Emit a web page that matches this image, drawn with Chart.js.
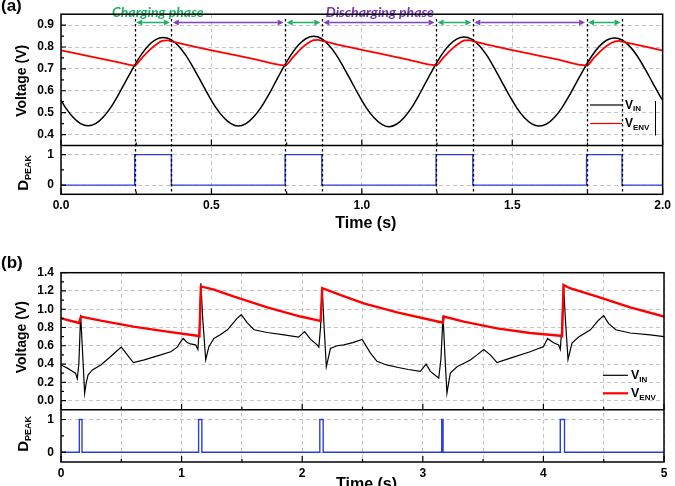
<!DOCTYPE html>
<html>
<head>
<meta charset="utf-8">
<script src="https://cdn.jsdelivr.net/npm/chart.js@4.4.1/dist/chart.umd.min.js"></script>
<style>
  html, body { margin: 0; padding: 0; background: #fff; overflow: hidden; }
  canvas { position: absolute; left: 0; }
</style>
</head>
<body>
<canvas id="chartA" width="675" height="243" style="top:0"></canvas>
<canvas id="chartB" width="675" height="243" style="top:243px"></canvas>
<script>
// ---- panel (a): sine input ----
const timeA = [0, 0.015, 0.04, 0.065, 0.09, 0.115, 0.14, 0.165, 0.19, 0.215, 0.24, 0.265, 0.29, 0.315, 0.34, 0.365, 0.39, 0.415, 0.44, 0.465, 0.49, 0.515, 0.54, 0.565, 0.59, 0.615, 0.64, 0.665, 0.69, 0.715, 0.74, 0.765, 0.79, 0.815, 0.84, 0.865, 0.89, 0.915, 0.94, 0.965, 0.99, 1.015, 1.04, 1.065, 1.09, 1.115, 1.14, 1.165, 1.19, 1.215, 1.24, 1.265, 1.29, 1.315, 1.34, 1.365, 1.39, 1.415, 1.44, 1.465, 1.49, 1.515, 1.54, 1.565, 1.59, 1.615, 1.64, 1.665, 1.69, 1.715, 1.74, 1.765, 1.79, 1.815, 1.84, 1.865, 1.89, 1.915, 1.94, 1.965, 1.99, 2.0];
const vinA = [0.556,
  0.523, 0.479, 0.450,
  0.440, 0.450, 0.479, 0.523, 0.580, 0.643, 0.705, 0.762, 0.806, 0.834, 0.843, 0.834, 0.806, 0.762, 0.705, 0.643, 0.580, 0.523, 0.479, 0.450,
  0.439, 0.450, 0.480, 0.524, 0.581, 0.645, 0.708, 0.765, 0.810, 0.839, 0.849, 0.839, 0.809, 0.764, 0.706, 0.643, 0.580, 0.522, 0.478, 0.448,
  0.436, 0.447, 0.477, 0.522, 0.580, 0.644, 0.707, 0.764, 0.808, 0.836, 0.846, 0.836, 0.807, 0.763, 0.705, 0.642, 0.579, 0.522, 0.478, 0.449,
  0.439, 0.449, 0.478, 0.522, 0.579, 0.642, 0.704, 0.760, 0.804, 0.832, 0.841, 0.832, 0.804, 0.760, 0.703, 0.641, 0.579,
  0.556];
const envTimeA = [0, 0.1, 0.2, 0.245, 0.27, 0.295, 0.32, 0.34, 0.355, 0.367, 0.45, 0.55, 0.65, 0.745, 0.77, 0.795, 0.82, 0.84, 0.855, 0.867, 0.95, 1.05, 1.15, 1.247, 1.272, 1.297, 1.322, 1.342, 1.357, 1.369, 1.45, 1.55, 1.65, 1.747, 1.772, 1.797, 1.822, 1.842, 1.855, 1.865, 1.95, 2.0];
const envA = [0.785, 0.756, 0.728, 0.716, 0.752, 0.787, 0.815, 0.829, 0.830, 0.826, 0.800, 0.771, 0.742, 0.716, 0.752, 0.788, 0.817, 0.831, 0.833, 0.829, 0.802, 0.773, 0.744, 0.717, 0.753, 0.788, 0.816, 0.830, 0.831, 0.827, 0.801, 0.772, 0.743, 0.716, 0.751, 0.786, 0.813, 0.826, 0.828, 0.825, 0.799, 0.784];
const peakOnA = [0.245, 0.745, 1.247, 1.747];
const peakOffA = [0.367, 0.867, 1.369, 1.865];
const xTicksA = [0, 0.5, 1, 1.5, 2];
const yTicksA = [0.4, 0.5, 0.6, 0.7, 0.8, 0.9];

// ---- panel (b): ECG input ----
const timeB = [0, 0.03, 0.053, 0.094, 0.12, 0.135, 0.148, 0.163, 0.178, 0.196, 0.21, 0.224, 0.26, 0.33, 0.41, 0.46, 0.5, 0.55, 0.6, 0.69, 0.8, 0.91, 0.964, 0.99, 1.014, 1.047, 1.074, 1.116, 1.135, 1.148, 1.16, 1.175, 1.2, 1.226, 1.268, 1.32, 1.38, 1.46, 1.495, 1.545, 1.6, 1.71, 1.85, 1.97, 2.02, 2.07, 2.124, 2.138, 2.152, 2.166, 2.18, 2.2, 2.234, 2.29, 2.345, 2.42, 2.497, 2.566, 2.62, 2.7, 2.787, 2.88, 2.98, 3.027, 3.063, 3.1, 3.132, 3.15, 3.168, 3.183, 3.2, 3.215, 3.228, 3.284, 3.394, 3.45, 3.505, 3.56, 3.615, 3.726, 3.89, 3.96, 4.0, 4.035, 4.08, 4.126, 4.14, 4.153, 4.167, 4.182, 4.204, 4.237, 4.292, 4.39, 4.457, 4.5, 4.54, 4.6, 4.72, 4.886, 5.0];
const vinB = [0.39, 0.37, 0.355, 0.32, 0.30, 0.24, 0.40, 0.94, 0.55, 0.08, 0.20, 0.28, 0.335, 0.39, 0.48, 0.54, 0.585, 0.50, 0.415, 0.445, 0.49, 0.535, 0.585, 0.64, 0.68, 0.635, 0.62, 0.61, 0.56, 0.80, 1.285, 0.90, 0.445, 0.59, 0.68, 0.72, 0.775, 0.90, 0.94, 0.85, 0.775, 0.745, 0.72, 0.695, 0.755, 0.67, 0.61, 0.585, 0.80, 1.24, 0.85, 0.37, 0.57, 0.60, 0.61, 0.635, 0.67, 0.52, 0.43, 0.39, 0.365, 0.34, 0.32, 0.40, 0.32, 0.28, 0.245, 0.45, 0.93, 0.50, 0.08, 0.20, 0.30, 0.37, 0.445, 0.50, 0.56, 0.50, 0.415, 0.465, 0.535, 0.57, 0.59, 0.68, 0.635, 0.61, 0.56, 0.80, 1.27, 0.90, 0.45, 0.63, 0.695, 0.775, 0.88, 0.93, 0.845, 0.775, 0.74, 0.72, 0.70];
const envTimeB = [0, 0.135, 0.15, 0.165, 0.33, 0.6, 0.88, 1.13, 1.148, 1.16, 1.268, 1.43, 1.71, 1.986, 2.14, 2.153, 2.166, 2.32, 2.51, 2.787, 3.16, 3.166, 3.175, 3.34, 3.615, 3.89, 4.14, 4.155, 4.167, 4.22, 4.44, 4.72, 5.0];
const envB = [0.90, 0.855, 0.85, 0.92, 0.875, 0.81, 0.755, 0.71, 0.705, 1.25, 1.215, 1.14, 1.02, 0.92, 0.875, 0.87, 1.23, 1.155, 1.065, 0.965, 0.855, 0.853, 0.92, 0.865, 0.79, 0.74, 0.71, 0.705, 1.265, 1.23, 1.14, 1.02, 0.92];
const peakOnB = [0.152, 1.141, 2.146, 3.157, 4.14];
const peakOffB = [0.174, 1.168, 2.174, 3.168, 4.175];
const xTicksB = [0, 1, 2, 3, 4, 5];
const yTicksB = [0, 0.2, 0.4, 0.6, 0.8, 1.0, 1.2, 1.4];

const dTicks = [0, 1];

const FONT = "'Liberation Sans', Arial, sans-serif";
const GRID = '#c4c4c4';
Chart.defaults.font.family = FONT;
Chart.defaults.color = '#000';

function zip(t, v) { return t.map((x, i) => ({ x: x, y: v[i] })); }

function pulses(on, off, tEnd) {
  const pts = [{ x: 0, y: 0 }];
  on.forEach((t, i) => {
    pts.push({ x: t, y: 0 }, { x: t, y: 1 }, { x: off[i], y: 1 }, { x: off[i], y: 0 });
  });
  pts.push({ x: tEnd, y: 0 });
  return pts;
}

function mids(list) {
  const out = [];
  for (let i = 0; i < list.length - 1; i++) out.push((list[i] + list[i + 1]) / 2);
  return out;
}

function setTicks(list) {
  return function (scale) { scale.ticks = list.map(v => ({ value: v })); };
}

function tickFont() { return { family: FONT, size: 12, weight: 'bold' }; }

// text with optional subscript; rotated when rot is set
function drawSub(ctx, x, y, main, sub, size, subSize, rot) {
  ctx.save();
  ctx.translate(x, y);
  if (rot) ctx.rotate(-Math.PI / 2);
  ctx.fillStyle = '#000';
  ctx.textBaseline = 'middle';
  ctx.font = 'bold ' + size + 'px ' + FONT;
  const w1 = ctx.measureText(main).width;
  ctx.font = 'bold ' + subSize + 'px ' + FONT;
  const w2 = sub ? ctx.measureText(sub).width : 0;
  const x0 = rot ? -(w1 + w2) / 2 : 0;
  ctx.font = 'bold ' + size + 'px ' + FONT;
  ctx.textAlign = 'left';
  ctx.fillText(main, x0, 0);
  if (sub) {
    ctx.font = 'bold ' + subSize + 'px ' + FONT;
    ctx.fillText(sub, x0 + w1, size * 0.3);
  }
  ctx.restore();
}

function arrow(ctx, x1, x2, y, color) {
  const h = 6, w = 3;
  ctx.strokeStyle = color;
  ctx.fillStyle = color;
  ctx.lineWidth = 1.5;
  ctx.setLineDash([]);
  ctx.beginPath(); ctx.moveTo(x1 + h, y); ctx.lineTo(x2 - h, y); ctx.stroke();
  ctx.beginPath(); ctx.moveTo(x1, y); ctx.lineTo(x1 + h, y - w); ctx.lineTo(x1 + h, y + w); ctx.closePath(); ctx.fill();
  ctx.beginPath(); ctx.moveTo(x2, y); ctx.lineTo(x2 - h, y - w); ctx.lineTo(x2 - h, y + w); ctx.closePath(); ctx.fill();
}

function framePlugin(o) {
  return {
    id: 'frame',
    afterDatasetsDraw(chart) {
      if (o.overlay) o.overlay(chart);
    },
    afterDraw(chart) {
      const ctx = chart.ctx, a = chart.chartArea;
      const sx = chart.scales.x, sy = chart.scales.y, sd = chart.scales.y2;
      ctx.save();
      ctx.strokeStyle = '#000';
      ctx.lineWidth = 1.5;
      ctx.setLineDash([]);
      ctx.strokeRect(a.left, a.top, a.right - a.left, a.bottom - a.top);
      ctx.beginPath();
      ctx.moveTo(a.left, sy.bottom); ctx.lineTo(a.right, sy.bottom);
      ctx.stroke();

      ctx.lineWidth = 1.2;
      ctx.beginPath();
      const xMinor = mids(o.xMajor);
      [sy.bottom, a.bottom].forEach(b => {
        o.xMajor.forEach(v => { const p = sx.getPixelForValue(v); ctx.moveTo(p, b); ctx.lineTo(p, b - 6); });
        xMinor.forEach(v => { const p = sx.getPixelForValue(v); ctx.moveTo(p, b); ctx.lineTo(p, b - 3); });
      });
      [[sy, o.yMajor], [sd, dTicks]].forEach(([s, list]) => {
        list.forEach(v => { const p = s.getPixelForValue(v); ctx.moveTo(a.left, p); ctx.lineTo(a.left + 5, p); });
        mids(list).forEach(v => { const p = s.getPixelForValue(v); ctx.moveTo(a.left, p); ctx.lineTo(a.left + 3, p); });
      });
      ctx.stroke();

      // axis titles
      drawSub(ctx, 22, (sy.top + sy.bottom) / 2 + o.vOff, 'Voltage (V)', '', 14, 9, true);
      drawSub(ctx, 24, (sd.top + sd.bottom) / 2 + o.dOff, 'D', 'PEAK', 15, 9, true);
      ctx.fillStyle = '#000';
      ctx.font = 'bold 16px ' + FONT;
      ctx.textAlign = 'center';
      ctx.textBaseline = 'alphabetic';
      ctx.fillText('Time (s)', (a.left + a.right) / 2 + 4, o.timeY);
      ctx.textAlign = 'left';
      ctx.font = 'bold 17px ' + FONT;
      ctx.fillText(o.label, 1, o.labelY);

      // legend
      const L = o.legend;
      ctx.lineWidth = 1.2;
      ctx.strokeStyle = '#000';
      ctx.beginPath(); ctx.moveTo(L.x1, L.y1); ctx.lineTo(L.x2, L.y1); ctx.stroke();
      ctx.lineWidth = L.redW;
      ctx.strokeStyle = '#ff0000';
      ctx.beginPath(); ctx.moveTo(L.x1, L.y2); ctx.lineTo(L.x2, L.y2); ctx.stroke();
      drawSub(ctx, L.x2 + 3, L.y1 + 0.5, 'V', 'IN', L.size, L.sub, false);
      drawSub(ctx, L.x2 + 3, L.y2 + 0.5, 'V', 'ENV', L.size, L.sub, false);
      if (L.bar) {
        ctx.lineWidth = 1;
        ctx.strokeStyle = '#000';
        ctx.beginPath(); ctx.moveTo(L.bar, L.y1 - 4); ctx.lineTo(L.bar, L.y2 + 12); ctx.stroke();
      }
      ctx.restore();
    }
  };
}

function yScale(min, max, ticks, weight, fmt) {
  return {
    type: 'linear', position: 'left', stack: 'v', stackWeight: weight,
    min: min, max: max,
    afterBuildTicks: setTicks(ticks),
    afterFit: s => { s.width = 61; },
    ticks: { font: tickFont(), color: '#000', padding: 7, autoSkip: false, callback: fmt },
    grid: { color: GRID, lineWidth: 1, drawTicks: false },
    border: { display: false, dash: [4, 3] }
  };
}

function xScale(max, ticks, height, fmt) {
  return {
    type: 'linear', min: 0, max: max,
    afterBuildTicks: setTicks(ticks),
    afterFit: s => { s.height = height; },
    ticks: { font: tickFont(), color: '#000', padding: 4, maxRotation: 0, autoSkip: false, callback: fmt },
    grid: { color: GRID, lineWidth: 1, drawTicks: false },
    border: { display: false, dash: [4, 3] }
  };
}

function lineSet(data, color, width, axis, smooth) {
  return {
    data: data, borderColor: color, borderWidth: width, yAxisID: axis,
    pointRadius: 0, fill: false,
    tension: smooth ? 0.4 : 0, cubicInterpolationMode: smooth ? 'monotone' : 'default'
  };
}

const one = v => v.toFixed(1);
const plain = v => String(v);

// ---- chart (a) ----
new Chart(document.getElementById('chartA'), {
  type: 'line',
  data: {
    datasets: [
      lineSet(zip(envTimeA, envA), '#ff0000', 1.8, 'y', true),
      lineSet(zip(timeA, vinA), '#000000', 1.5, 'y', true),
      lineSet(pulses(peakOnA, peakOffA, 2), '#2a3de0', 1.4, 'y2', false)
    ]
  },
  options: {
    responsive: false, animation: false, events: [],
    layout: { padding: { left: 0, right: 11, top: 4, bottom: 0 } },
    plugins: { legend: { display: false }, tooltip: { enabled: false } },
    scales: {
      x: xScale(2, xTicksA, 48.7, one),
      y2: yScale(-0.3, 1.3, dTicks, 51.6, plain),
      y: yScale(0.35, 0.95, yTicksA, 138.7, one)
    }
  },
  plugins: [framePlugin({
    xMajor: xTicksA, yMajor: yTicksA, vOff: 1, dOff: 3,
    timeY: 228, label: '(a)', labelY: 11,
    legend: { x1: 590, x2: 622, y1: 105, y2: 123.5, redW: 1.2, size: 12, sub: 8, bar: 655.5 },
    overlay(chart) {
      const ctx = chart.ctx, a = chart.chartArea, sx = chart.scales.x;
      ctx.save();
      ctx.strokeStyle = '#000';
      ctx.lineWidth = 1.3;
      ctx.setLineDash([2.5, 2.5]);
      peakOnA.concat(peakOffA).forEach(t => {
        const p = Math.round(sx.getPixelForValue(t)) + 0.5;
        ctx.beginPath(); ctx.moveTo(p, 19); ctx.lineTo(p, a.bottom); ctx.stroke();
      });
      const y = 22.5;
      peakOnA.forEach((t, i) => {
        arrow(ctx, sx.getPixelForValue(t) + 1.5, sx.getPixelForValue(peakOffA[i]) - 1.5, y, '#1fb165');
        if (i < peakOnA.length - 1) {
          arrow(ctx, sx.getPixelForValue(peakOffA[i]) + 1.5, sx.getPixelForValue(peakOnA[i + 1]) - 1.5, y, '#7e45bf');
        }
      });
      ctx.font = 'italic bold 14px Lato, ' + FONT;
      ctx.textAlign = 'center';
      ctx.textBaseline = 'alphabetic';
      ctx.fillStyle = '#1cb061';
      ctx.fillText('Charging phase', sx.getPixelForValue(0.322), 17);
      ctx.fillStyle = '#7438ad';
      ctx.fillText('Discharging phase', sx.getPixelForValue(1.06), 17);
      ctx.restore();
    }
  })]
});

// ---- chart (b) ----
const gridB = xTicksB.concat(mids(xTicksB)).sort((p, q) => p - q);
new Chart(document.getElementById('chartB'), {
  type: 'line',
  data: {
    datasets: [
      lineSet(zip(envTimeB, envB), '#ff0000', 2.4, 'y', false),
      lineSet(zip(timeB, vinB), '#000000', 1.2, 'y', false),
      lineSet(pulses(peakOnB, peakOffB, 5), '#2a3de0', 1.4, 'y2', false)
    ]
  },
  options: {
    responsive: false, animation: false, events: [],
    layout: { padding: { left: 0, right: 11, top: 29.7, bottom: 0 } },
    plugins: { legend: { display: false }, tooltip: { enabled: false } },
    scales: {
      x: xScale(5, gridB, 24, v => (Number.isInteger(v) ? String(v) : '')),
      y2: yScale(-0.3, 1.3, dTicks, 52.3, plain),
      y: yScale(-0.1, 1.4, yTicksB, 137, one)
    }
  },
  plugins: [framePlugin({
    xMajor: xTicksB, yMajor: yTicksB, vOff: -4, dOff: -2,
    timeY: 246, label: '(b)', labelY: 25,
    legend: { x1: 603, x2: 628, y1: 132.3, y2: 150.3, redW: 2.2, size: 12.5, sub: 8, bar: 0 }
  })]
});
</script>
</body>
</html>
